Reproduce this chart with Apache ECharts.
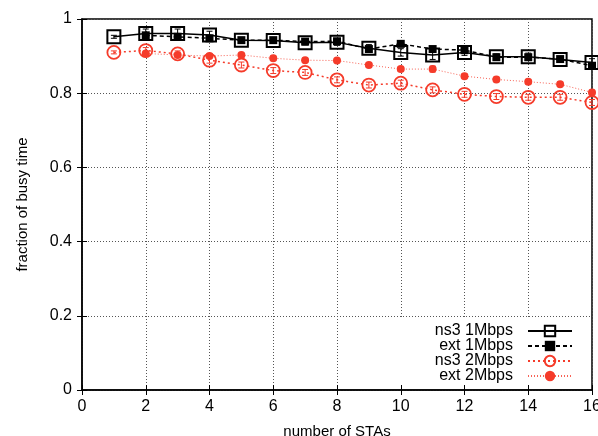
<!DOCTYPE html>
<html><head><meta charset="utf-8">
<script src="https://cdn.jsdelivr.net/npm/echarts@6/dist/echarts.min.js"></script>
<style>html,body{margin:0;padding:0;background:#fff}#c{width:598px;height:436px}</style>
</head><body><div id="c"></div>
<script>
const xNs3_1 = [1,2,3,4,5,6,7,8,9,10,11,12,13,14,15,16];
const ns3_1M = [0.952,0.961,0.961,0.957,0.943,0.942,0.936,0.937,0.921,0.910,0.903,0.910,0.898,0.898,0.891,0.883];
const ns3_1M_err = [0.004,0.012,0.012,0.010,0.006,0.008,0.006,0.008,0.010,0.010,0.012,0.008,0.008,0.010,0.008,0.010];
const xExt = [2,3,4,5,6,7,8,9,10,11,12,13,14,15,16];
const ext_1M = [0.956,0.952,0.948,0.943,0.943,0.939,0.940,0.919,0.933,0.919,0.916,0.897,0.897,0.892,0.874];
const ext_1M_err = [0.004,0.004,0.004,0.004,0.004,0.004,0.004,0.004,0.004,0.004,0.004,0.004,0.004,0.004,0.006];
const ns3_2M = [0.910,0.915,0.906,0.889,0.876,0.861,0.856,0.836,0.822,0.827,0.809,0.797,0.791,0.789,0.789,0.775];
const ns3_2M_err = [0.004,0.008,0.008,0.008,0.008,0.008,0.008,0.008,0.008,0.008,0.008,0.008,0.008,0.008,0.008,0.008];
const ext_2M = [0.907,0.903,0.900,0.903,0.894,0.889,0.888,0.876,0.865,0.865,0.846,0.837,0.831,0.824,0.802];
const ext_2M_err = [0.004,0.004,0.004,0.004,0.006,0.005,0.005,0.006,0.006,0.008,0.006,0.006,0.006,0.006,0.006];
const xTicks = [0,2,4,6,8,10,12,14,16];
const yTicks = [0,0.2,0.4,0.6,0.8,1];
const RED = '#f53b2a';

const chart = echarts.init(document.getElementById('c'));
const FONT = 'Liberation Sans';
function pairs(xs, ys){ return xs.map((x,i)=>[x,ys[i]]); }
function errData(xs, ys, es){ return xs.map((x,i)=>[x, ys[i]-es[i], ys[i]+es[i]]); }
function errSeries(xs, ys, es, color){
  return {
    type:'custom', silent:true, z:1,
    data: errData(xs, ys, es),
    renderItem:function(params, api){
      const lo = api.coord([api.value(0), api.value(1)]);
      const hi = api.coord([api.value(0), api.value(2)]);
      const w = 3;
      return {type:'group', children:[
        {type:'line', shape:{x1:lo[0],y1:lo[1],x2:hi[0],y2:hi[1]}, style:{stroke:color,lineWidth:1}},
        {type:'line', shape:{x1:lo[0]-w,y1:lo[1],x2:lo[0]+w,y2:lo[1]}, style:{stroke:color,lineWidth:1}},
        {type:'line', shape:{x1:hi[0]-w,y1:hi[1],x2:hi[0]+w,y2:hi[1]}, style:{stroke:color,lineWidth:1}}
      ]};
    }
  };
}
const axisLbl = {fontFamily:FONT, fontSize:16, color:'#000'};
const option = {
  animation:false,
  grid:{left:82, right:6, top:19, bottom:46, show:true, borderColor:'#000', borderWidth:1.5, containLabel:false, outerBoundsMode:'none'},
  textStyle:{fontFamily:FONT},
  legend:{
    orient:'vertical', align:'right', right:7, top:318,
    padding:[5,18,1,43], backgroundColor:'#fff',
    itemWidth:44, itemHeight:13, itemGap:-1,
    textStyle:{fontFamily:FONT, fontSize:16, lineHeight:16, color:'#000', padding:[0,10,0,0]},
    data:['ns3 1Mbps','ext 1Mbps','ns3 2Mbps','ext 2Mbps']
  },
  xAxis:[{
    type:'value', min:0, max:16, interval:2,
    name:'number of STAs', nameLocation:'middle', nameGap:34,
    nameTextStyle:{fontFamily:FONT, fontSize:15, color:'#000'},
    axisLine:{show:true, lineStyle:{color:'#000', width:1.5}},
    axisTick:{show:true, inside:true, length:5, lineStyle:{color:'#000'}},
    axisLabel:Object.assign({margin:9}, axisLbl),
    splitLine:{show:true, lineStyle:{color:'#555', type:[1,2], width:1}}
  },{
    type:'value', position:'top', min:0, max:16, interval:2,
    axisLine:{show:false}, axisTick:{show:true, inside:true, length:5, lineStyle:{color:'#000'}},
    axisLabel:{show:false}, splitLine:{show:false}
  }],
  yAxis:[{
    type:'value', min:0, max:1, interval:0.2,
    name:'fraction of busy time', nameLocation:'middle', nameGap:52, nameRotate:90,
    nameTextStyle:{fontFamily:FONT, fontSize:15, color:'#000'},
    axisLine:{show:true, lineStyle:{color:'#000', width:1.5}},
    axisTick:{show:true, inside:true, length:5, lineStyle:{color:'#000'}},
    axisLabel:Object.assign({margin:10}, axisLbl),
    splitLine:{show:true, lineStyle:{color:'#555', type:[1,2], width:1}}
  },{
    type:'value', position:'right', min:0, max:1, interval:0.2,
    axisLine:{show:false}, axisTick:{show:true, inside:true, length:5, lineStyle:{color:'#000'}},
    axisLabel:{show:false}, splitLine:{show:false}
  }],
  series:[
    errSeries(xNs3_1, ns3_1M, ns3_1M_err, '#000'),
    errSeries(xExt, ext_1M, ext_1M_err, '#000'),
    errSeries(xNs3_1, ns3_2M, ns3_2M_err, RED),
    errSeries(xExt, ext_2M, ext_2M_err, RED),
    {name:'ns3 1Mbps', type:'line', z:3, data:pairs(xNs3_1, ns3_1M), symbol:'rect', symbolSize:13,
     lineStyle:{color:'#000', width:1.5, type:'solid'},
     itemStyle:{color:'rgba(255,255,255,0)', borderColor:'#000', borderWidth:2}},
    {name:'ext 1Mbps', type:'line', z:4, data:pairs(xExt, ext_1M), symbol:'rect', symbolSize:8,
     lineStyle:{color:'#000', width:1.5, type:[4,3]},
     itemStyle:{color:'#000', borderColor:'#000', borderWidth:0}},
    {name:'ns3 2Mbps', type:'line', z:3, data:pairs(xNs3_1, ns3_2M), symbol:'circle', symbolSize:13,
     lineStyle:{color:RED, width:1.5, type:[2,3]},
     itemStyle:{color:'rgba(255,255,255,0)', borderColor:RED, borderWidth:1.8}},
    {name:'ext 2Mbps', type:'line', z:4, data:pairs(xExt, ext_2M), symbol:'circle', symbolSize:8,
     lineStyle:{color:RED, width:1, type:[1,2], opacity:0.8},
     itemStyle:{color:RED, borderWidth:0}}
  ]
};
chart.setOption(option);
</script></body></html>
